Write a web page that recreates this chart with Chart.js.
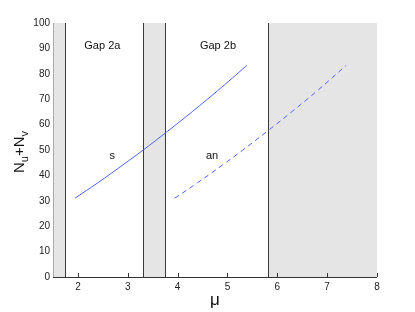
<!DOCTYPE html>
<html>
<head>
<meta charset="utf-8">
<script src="https://cdn.jsdelivr.net/npm/chart.js@4/dist/chart.umd.min.js"></script>
<style>
  html, body { margin: 0; padding: 0; background: #fff; }
  #wrap { width: 415px; height: 312px; }
</style>
</head>
<body>
<div id="wrap"><canvas id="gapChart"></canvas></div>
<script>
// branch s (solid) and an (dashed)
const muS = [1.94, 2.4, 2.9, 3.31, 3.8, 4.3, 4.8, 5.39]
const nS = [31, 37.1, 44.1, 50, 57.4, 65.2, 73.3, 83.3]
const muAn = [3.94, 4.4, 4.9, 5.31, 5.8, 6.3, 6.8, 7.38]
const nAn = [31, 37.1, 44.1, 50, 57.4, 65.2, 73.3, 83.3]

// shaded regions and the vertical boundary lines
const bands = [[1.5, 1.75], [3.31, 3.75], [5.81, 8]]
const edges = [1.75, 3.31, 3.75, 5.81]

const xTicks = [2, 3, 4, 5, 6, 7, 8]
const yTicks = [0, 10, 20, 30, 40, 50, 60, 70, 80, 90, 100]

// text labels inside the plot: [text, mu, N]
const notes = [
  ['Gap 2a', 2.49, 91],
  ['Gap 2b', 4.81, 91],
  ['s', 2.69, 47.6],
  ['an', 4.69, 47.6],
]

const FONT = 'Liberation Sans, Arial, sans-serif'

const toPoints = (xs, ys) => xs.map((x, i) => ({ x: x, y: ys[i] }))

const gapPlugin = {
  id: 'gaps',
  beforeDatasetsDraw(chart) {
    const { ctx, chartArea: a, scales } = chart
    const x = scales.x
    ctx.save()
    ctx.fillStyle = '#e5e5e5'
    bands.forEach(([lo, hi]) => {
      const x0 = x.getPixelForValue(lo)
      const x1 = x.getPixelForValue(hi)
      ctx.fillRect(x0, a.top, x1 - x0, a.bottom - a.top)
    })
    ctx.strokeStyle = '#3a3a3a'
    ctx.lineWidth = 1
    edges.forEach((v) => {
      const px = Math.round(x.getPixelForValue(v)) + 0.5
      ctx.beginPath()
      ctx.moveTo(px, a.top)
      ctx.lineTo(px, a.bottom)
      ctx.stroke()
    })
    ctx.restore()
  },
  afterDatasetsDraw(chart) {
    const { ctx, chartArea: a, scales } = chart
    const x = scales.x
    const y = scales.y
    ctx.save()
    // axes
    ctx.lineWidth = 1
    ctx.strokeStyle = '#aaaaaa'
    ctx.beginPath()
    ctx.moveTo(a.left + 0.5, a.top)
    ctx.lineTo(a.left + 0.5, a.bottom)
    ctx.stroke()
    ctx.strokeStyle = '#333333'
    ctx.beginPath()
    ctx.moveTo(a.left, a.bottom + 0.5)
    ctx.lineTo(a.right, a.bottom + 0.5)
    ctx.stroke()
    // inward ticks on the x axis
    xTicks.forEach((v) => {
      const px = Math.round(x.getPixelForValue(v)) + 0.5
      ctx.beginPath()
      ctx.moveTo(px, a.bottom)
      ctx.lineTo(px, a.bottom - 4)
      ctx.stroke()
    })
    // notes
    ctx.fillStyle = '#111'
    ctx.font = '11px ' + FONT
    ctx.textAlign = 'center'
    ctx.textBaseline = 'middle'
    notes.forEach(([t, mx, ny]) => {
      ctx.fillText(t, x.getPixelForValue(mx), y.getPixelForValue(ny))
    })
    // x title
    ctx.font = '17px ' + FONT
    ctx.fillText('\u03bc', 215, 300)
    // y title N_u+N_v, rotated
    ctx.translate(19, 152)
    ctx.rotate(-Math.PI / 2)
    ctx.textAlign = 'left'
    ctx.textBaseline = 'alphabetic'
    const big = '15px ' + FONT
    const small = '11px ' + FONT
    const parts = [['N', big, 0], ['u', small, 4], ['+N', big, 0], ['v', small, 4]]
    let w = 0
    parts.forEach(([t, f]) => { ctx.font = f; w += ctx.measureText(t).width })
    let cx = -w / 2
    parts.forEach(([t, f, dy]) => {
      ctx.font = f
      ctx.fillText(t, cx, 5 + dy)
      cx += ctx.measureText(t).width
    })
    ctx.restore()
  },
}

new Chart(document.getElementById('gapChart'), {
  type: 'scatter',
  data: {
    datasets: [
      {
        label: 's',
        data: toPoints(muS, nS),
        showLine: true,
        borderColor: '#4f63ff',
        borderWidth: 1,
        pointRadius: 0,
        tension: 0.4,
      },
      {
        label: 'an',
        data: toPoints(muAn, nAn),
        showLine: true,
        borderColor: '#4f63ff',
        borderWidth: 1,
        borderDash: [5, 4],
        pointRadius: 0,
        tension: 0.4,
      },
    ],
  },
  options: {
    responsive: true,
    maintainAspectRatio: false,
    animation: false,
    layout: { padding: { left: 0, right: 38, top: 23, bottom: 0 } },
    plugins: { legend: { display: false }, tooltip: { enabled: false } },
    scales: {
      x: {
        type: 'linear',
        min: 1.5,
        max: 8,
        afterFit: (s) => { s.height = 35 },
        afterBuildTicks: (s) => { s.ticks = xTicks.map((v) => ({ value: v })) },
        grid: { display: false, drawTicks: false },
        border: { display: false },
        ticks: { color: '#222', font: { size: 10, family: FONT }, padding: 4 },
      },
      y: {
        type: 'linear',
        min: 0,
        max: 100,
        afterFit: (s) => { s.width = 53 },
        afterBuildTicks: (s) => { s.ticks = yTicks.map((v) => ({ value: v })) },
        grid: { display: false, drawTicks: false },
        border: { display: false },
        ticks: { color: '#222', font: { size: 10, family: FONT }, padding: 3 },
      },
    },
  },
  plugins: [gapPlugin],
})
</script>
</body>
</html>
